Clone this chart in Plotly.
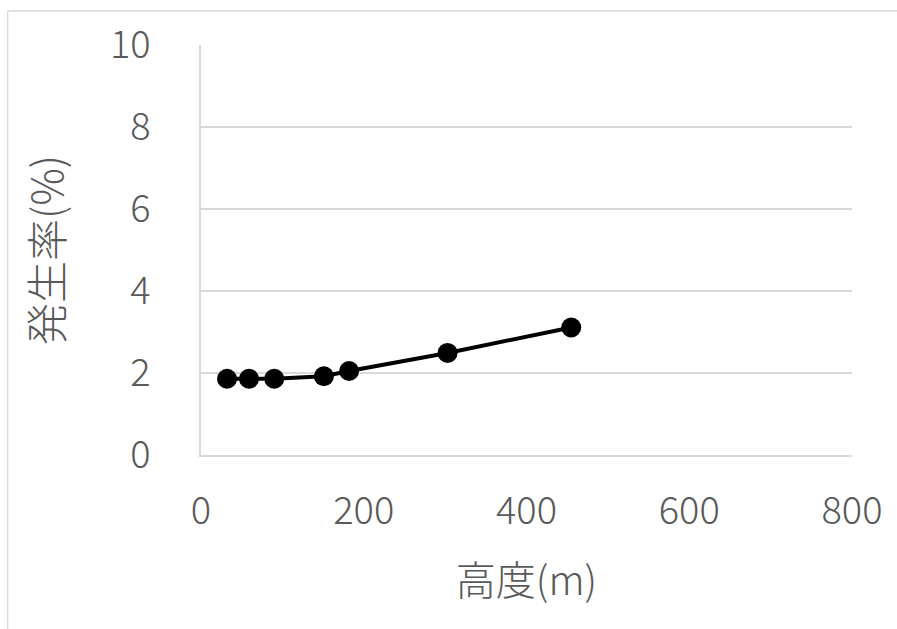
import plotly.graph_objects as go

# Height above ground (m) and incidence rate (%)
height_m = [32, 59, 90, 151, 182, 303, 455]
rate_pct = [1.86, 1.86, 1.86, 1.92, 2.05, 2.49, 3.11]

x_ticks = [0, 200, 400, 600, 800]
y_ticks = [0, 2, 4, 6, 8, 10]

TEXT = "#595959"
GRID = "#d9d9d9"
FONT = "Noto Sans CJK JP"

fig = go.Figure(
    go.Scatter(
        x=height_m,
        y=rate_pct,
        mode="lines+markers",
        line=dict(color="black", width=4),
        marker=dict(color="black", size=20),
        showlegend=False,
    )
)

fig.update_layout(
    width=897,
    height=629,
    margin=dict(l=201, r=45, t=45, b=174),
    paper_bgcolor="white",
    plot_bgcolor="white",
    font=dict(family=FONT, color=TEXT, size=38, weight=300),
)

fig.update_xaxes(
    range=[0, 800],
    tickvals=x_ticks,
    showgrid=False,
    zeroline=False,
    showline=True,
    linecolor=GRID,
    linewidth=1.5,
    ticks="",
    ticklabelstandoff=22,
    tickfont=dict(size=38, color=TEXT, weight=300),
    title=dict(text="高度(m)", font=dict(size=40, color=TEXT, weight=300), standoff=33),
)

fig.update_yaxes(
    range=[0, 10],
    tickvals=y_ticks,
    showgrid=True,
    gridcolor=GRID,
    gridwidth=1.5,
    zeroline=False,
    showline=True,
    linecolor=GRID,
    linewidth=1.5,
    ticks="",
    ticklabelstandoff=41,
    tickfont=dict(size=38, color=TEXT, weight=300),
    title=dict(text="発生率(%)", font=dict(size=42, color=TEXT, weight=300), standoff=33),
)

# Chart frame (left and top edges)
fig.add_shape(type="line", xref="paper", yref="paper",
              x0=-0.297, x1=1.2, y0=1.083, y1=1.083,
              line=dict(color=GRID, width=1.5))
fig.add_shape(type="line", xref="paper", yref="paper",
              x0=-0.297, x1=-0.297, y0=1.083, y1=-0.5,
              line=dict(color=GRID, width=1.5))

fig.write_html("out.html")
